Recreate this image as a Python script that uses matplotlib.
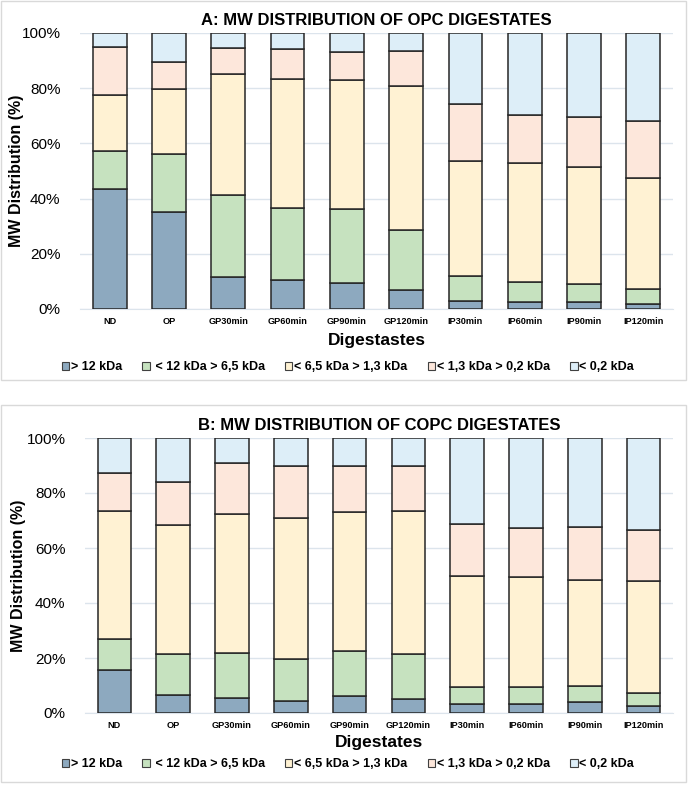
import matplotlib
matplotlib.use("Agg")
import matplotlib.pyplot as plt
from matplotlib.patches import Patch, Rectangle
import numpy as np

plt.rcParams["font.family"] = ["Liberation Sans", "DejaVu Sans"]

digestates = ["ND", "OP", "GP30min", "GP60min", "GP90min", "GP120min",
              "IP30min", "IP60min", "IP90min", "IP120min"]
fractions = ["> 12 kDa", " < 12 kDa > 6,5 kDa", "< 6,5 kDa > 1,3 kDa",
             "< 1,3 kDa > 0,2 kDa", "< 0,2 kDa"]
colors = ["#8DA9BF", "#C6E2BF", "#FFF2D3", "#FDE7DB", "#DDEEF8"]

# panel A (OPC) -- percentage of each fraction
opc_gt12 = [43.5, 35.3, 11.7, 10.6, 9.5, 7.0, 3.0, 2.7, 2.5, 1.8]
opc_12_65 = [13.6, 20.9, 29.6, 26.0, 26.6, 21.5, 8.8, 7.0, 6.6, 5.3]
opc_65_13 = [20.3, 23.6, 44.0, 46.7, 46.8, 52.4, 41.7, 43.1, 42.3, 40.5]
opc_13_02 = [17.4, 9.6, 9.3, 11.0, 10.2, 12.5, 20.7, 17.6, 18.3, 20.6]
opc_lt02 = [5.2, 10.6, 5.4, 5.7, 6.9, 6.6, 25.8, 29.6, 30.3, 31.8]

# panel B (COPC)
copc_gt12 = [15.8, 6.4, 5.3, 4.3, 6.1, 5.2, 3.2, 3.4, 4.1, 2.4]
copc_12_65 = [11.2, 15.2, 16.4, 15.4, 16.3, 16.4, 6.3, 6.0, 5.7, 5.0]
copc_65_13 = [46.5, 46.9, 50.7, 51.3, 50.7, 51.9, 40.3, 40.2, 38.6, 40.6]
copc_13_02 = [13.7, 15.6, 18.5, 19.0, 16.7, 16.3, 19.0, 17.8, 19.2, 18.4]
copc_lt02 = [12.8, 15.9, 9.1, 10.0, 10.2, 10.2, 31.2, 32.6, 32.4, 33.6]

W, H = 688, 788


def px_axes(fig, x0, x1, ytop, ybot):
    return fig.add_axes([x0 / W, 1 - ybot / H, (x1 - x0) / W, (ybot - ytop) / H])


def draw_panel(fig, box, ax_px, title, series, xlabel, xlabel_y, legend_y, ylabel_x):
    bx0, by0, bx1, by1 = box
    fig.patches.append(Rectangle((bx0 / W, 1 - by1 / H), (bx1 - bx0) / W, (by1 - by0) / H,
                                 transform=fig.transFigure, facecolor="none",
                                 edgecolor="#D9D9D9", linewidth=1.0, zorder=-1))
    ax = px_axes(fig, *ax_px)
    ax.patch.set_alpha(0)
    x = np.arange(len(digestates))
    bottom = np.zeros(len(digestates))
    for vals, col in zip(series, colors):
        ax.bar(x, vals, bottom=bottom, width=0.57, color=col,
               edgecolor="#262626", linewidth=1.1, zorder=3)
        bottom += np.array(vals)
    ax.set_xlim(-0.5, len(digestates) - 0.5)
    ax.set_ylim(0, 100)
    ax.set_yticks(range(0, 101, 20))
    ax.set_yticklabels([f"{v}%" for v in range(0, 101, 20)], fontsize=11)
    ax.set_xticks(x)
    ax.set_xticklabels(digestates, fontsize=6.6, fontweight="bold")
    ax.tick_params(axis="both", length=0)
    ax.tick_params(axis="y", pad=14)
    ax.tick_params(axis="x", pad=6)
    ax.grid(axis="y", color="#DCE4EC", linewidth=1.0, zorder=0)
    for s in ["top", "right", "left"]:
        ax.spines[s].set_visible(False)
    ax.spines["bottom"].set_color("#DCE4EC")
    ax.set_title(title, fontsize=12, fontweight="bold", pad=6)
    cy = (ax_px[2] + ax_px[3]) / 2
    fig.text(ylabel_x / W, 1 - cy / H, "MW Distribution (%)", rotation=90,
             ha="center", va="center", fontsize=11.5, fontweight="bold")
    cx = (ax_px[0] + ax_px[1]) / 2
    fig.text(cx / W, 1 - xlabel_y / H, xlabel, ha="center", va="center",
             fontsize=12.5, fontweight="bold")
    handles = [Patch(facecolor=c, edgecolor="#404040", linewidth=0.8) for c in colors]
    fig.legend(handles, fractions, loc="center", bbox_to_anchor=(348 / W, 1 - legend_y / H),
               ncol=5, frameon=False, handlelength=0.6, handleheight=0.6,
               handletextpad=0.15, columnspacing=1.6, prop={"size": 9, "weight": "bold"})
    return ax


fig = plt.figure(figsize=(W / 100, H / 100), dpi=100)
draw_panel(fig, (1, 1, 686, 380), (80, 673, 33, 309),
           "A: MW DISTRIBUTION OF OPC DIGESTATES",
           [opc_gt12, opc_12_65, opc_65_13, opc_13_02, opc_lt02],
           "Digestastes", 341, 367, 17)
draw_panel(fig, (1, 405, 686, 782), (85, 673, 438, 713),
           "B: MW DISTRIBUTION OF COPC DIGESTATES",
           [copc_gt12, copc_12_65, copc_65_13, copc_13_02, copc_lt02],
           "Digestates", 743, 764, 19)
fig.savefig("out.png", dpi=100)
